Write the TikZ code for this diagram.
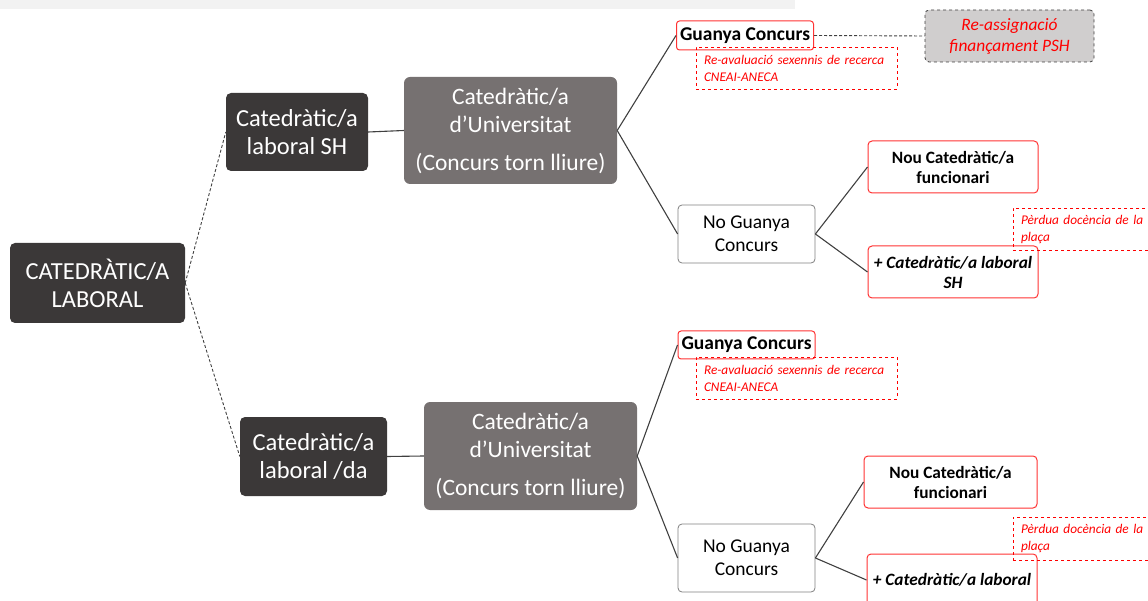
\documentclass[tikz,border=0pt]{standalone}
\usepackage{fontspec}
\setmainfont{Carlito}
\definecolor{boxdark}{HTML}{3B3838}
\definecolor{boxgrey}{HTML}{767171}
\definecolor{pshfill}{HTML}{D0CECE}
\definecolor{barfill}{HTML}{F2F2F2}
\definecolor{linegrey}{HTML}{404040}

\begin{document}
\begin{tikzpicture}[x=1pt,y=-1pt,
	darkbox/.style={fill=boxdark, rounded corners=5pt, text=white, align=center, inner sep=0pt, font=\fontsize{24.5}{28}\selectfont},
	univbox/.style={fill=boxgrey, rounded corners=6pt, text=white, align=center, inner sep=0pt, minimum width=213, font=\fontsize{23.5}{28}\selectfont},
	winbox/.style={draw=red!80, line width=1pt, rounded corners=3pt, fill=white, inner sep=0pt, minimum width=137, font=\bfseries\fontsize{19.5}{22}\selectfont},
	losebox/.style={draw=gray, line width=0.8pt, rounded corners=4pt, fill=white, align=center, inner sep=0pt, minimum width=137, font=\fontsize{19.5}{23}\selectfont},
	resbox/.style={draw=red!80, line width=1pt, rounded corners=4pt, fill=white, align=center, inner sep=0pt, minimum height=52, font=\bfseries\fontsize{17.3}{20}\selectfont},
	notebox/.style={draw=red, dashed, line width=0.7pt, text=red, align=left, inner sep=0pt, font=\itshape\fontsize{13.3}{17}\selectfont},
	pshbox/.style={draw=linegrey, dashed, line width=0.8pt, fill=pshfill, rounded corners=4pt, text=red, align=center, inner sep=0pt, font=\itshape\fontsize{17.4}{21}\selectfont},
	link/.style={draw=linegrey, line width=1.1pt},
	dlink/.style={draw=linegrey, line width=0.9pt, dash pattern=on 3pt off 2pt}]
	\useasboundingbox (0,0) rectangle (1148,601);
	\fill[barfill] (0,0) rectangle (795,9);

	% arrel
	\node[darkbox, minimum width=175, minimum height=80] (root) at (97.5,283) {CATEDRÀTIC/A\\LABORAL};

	% branca superior
	\node[darkbox, minimum width=142, minimum height=78] (labsh) at (297,132) {Catedràtic/a\\laboral SH};
	\node[univbox, minimum height=107] (univa) at (510.5,130.5) {Catedràtic/a\\d’Universitat\\[10pt](Concurs torn lliure)};
	\node[winbox, minimum height=29] (guanyaa) at (745,35.5) {Guanya Concurs};
	\node[notebox, minimum width=201, minimum height=42, text width=185] (notea) at (796.5,68) {Re-avaluació sexennis de recerca\\CNEAI-ANECA};
	\node[pshbox, minimum width=169, minimum height=52] (psh) at (1009.5,36) {Re-assignació\\finançament PSH};
	\node[losebox, minimum height=58] (noa) at (746.5,234) {No Guanya\\Concurs};
	\node[resbox, minimum width=170] (noua) at (953,167) {Nou Catedràtic/a\\funcionari};
	\node[resbox, minimum width=170] (plusa) at (953,272) {\itshape + Catedràtic/a laboral\\\itshape SH};
	\node[notebox, minimum width=150, minimum height=42, text width=134] (perda) at (1088,229) {Pèrdua docència de la\\plaça};

	% branca inferior
	\node[darkbox, minimum width=147, minimum height=79] (labda) at (313.5,456.5) {Catedràtic/a\\laboral /da};
	\node[univbox, minimum height=108] (univb) at (530.5,456) {Catedràtic/a\\d’Universitat\\[10pt](Concurs torn lliure)};
	\node[winbox, minimum height=28] (guanyab) at (746.5,345) {Guanya Concurs};
	\node[notebox, minimum width=201, minimum height=42, text width=185] (noteb) at (796.5,378) {Re-avaluació sexennis de recerca\\CNEAI-ANECA};
	\node[losebox, minimum height=68] (nob) at (746.5,558) {No Guanya\\Concurs};
	\node[resbox, minimum width=173] (noub) at (950.5,482) {Nou Catedràtic/a\\funcionari};
	\node[resbox, minimum width=170] (plusb) at (952,580) {\itshape + Catedràtic/a laboral};
	\node[notebox, minimum width=150, minimum height=43, text width=134] (perdb) at (1088,538.5) {Pèrdua docència de la\\plaça};

	% connectors
	\draw[dlink] (root.east) -- (labsh.west);
	\draw[dlink] (root.east) -- (labda.west);
	\draw[link] (labsh.east) -- (univa.west);
	\draw[link] (labda.east) -- (univb.west);
	\draw[link] (univa.east) -- (guanyaa.west);
	\draw[link] (univa.east) -- (noa.west);
	\draw[link] (univb.east) -- (guanyab.west);
	\draw[link] (univb.east) -- (nob.west);
	\draw[link] (noa.east) -- (noua.west);
	\draw[link] (noa.east) -- (plusa.west);
	\draw[link] (nob.east) -- (noub.west);
	\draw[link] (nob.east) -- (plusb.west);
	\draw[dlink] (guanyaa.east) -- (psh.west);
\end{tikzpicture}
\end{document}
